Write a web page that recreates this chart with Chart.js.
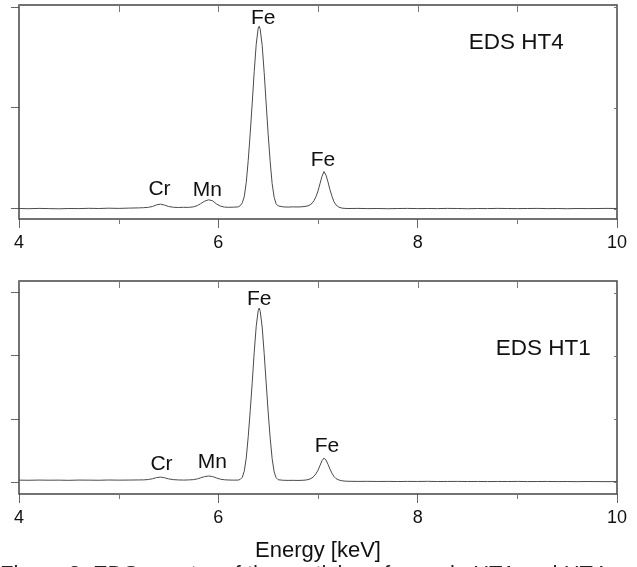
<!DOCTYPE html>
<html>
<head>
<meta charset="utf-8">
<script src="https://cdn.jsdelivr.net/npm/chart.js@4.4.1/dist/chart.umd.min.js"></script>
<style>
  html, body { margin: 0; padding: 0; background: #fff; width: 637px; height: 567px; overflow: hidden; position: relative; }
  canvas { position: absolute; left: 0; }
  #caption { position: absolute; left: 0; top: 564px; font: 22px "Liberation Sans", Arial, sans-serif; color: #222; white-space: nowrap; line-height: 20px; }
</style>
</head>
<body>
<canvas id="ht4Chart" width="637" height="255" style="top:0"></canvas>
<canvas id="ht1Chart" width="637" height="305" style="top:262px"></canvas>
<div id="caption">Figure 3: EDS spectra of the particles of sample HT1 and HT4</div>
<script>
// energy grid (keV), finer around the peaks
const energy = [
  4.0, 4.1, 4.2, 4.3, 4.4, 4.5, 4.6, 4.7, 4.8, 4.9, 5.0, 5.1, 5.2,
  5.25, 5.30, 5.34, 5.38, 5.42, 5.46, 5.50, 5.55, 5.60, 5.65, 5.70, 5.75, 5.79, 5.82, 5.86, 5.90, 5.94, 5.98, 6.02, 6.06, 6.10, 6.15, 6.20,
  6.22, 6.24, 6.26, 6.28, 6.30, 6.32, 6.34, 6.36, 6.38, 6.40, 6.41, 6.42, 6.44, 6.46, 6.48, 6.50, 6.52, 6.54, 6.56, 6.58, 6.60,
  6.65, 6.70, 6.75, 6.80, 6.85, 6.88,
  6.91, 6.94, 6.96, 6.98, 7.00, 7.02, 7.04, 7.06, 7.08, 7.10, 7.12, 7.14, 7.16, 7.18, 7.21, 7.24, 7.27,
  7.3, 7.4, 7.5, 7.6, 7.7, 7.8, 7.9, 8.0, 8.1, 8.2, 8.3, 8.4, 8.5, 8.6, 8.7, 8.8, 8.9, 9.0, 9.1, 9.2, 9.3, 9.4, 9.5, 9.6, 9.7, 9.8, 9.9, 10.0
];

// counts, in units of one y tick
const countsHT4 = [
  0.004, 0.002, 0.005, 0.003, 0.001, 0.004, 0.003, 0.006, 0.004, 0.007, 0.005, 0.008, 0.010,
  0.012, 0.016, 0.024, 0.040, 0.047, 0.038, 0.024, 0.016, 0.014, 0.016, 0.015, 0.020, 0.033, 0.050, 0.075, 0.090, 0.082, 0.050, 0.028, 0.018, 0.016, 0.017, 0.020,
  0.032, 0.060, 0.120, 0.260, 0.480, 0.750, 1.050, 1.360, 1.630, 1.790, 1.810, 1.780, 1.620, 1.350, 1.040, 0.740, 0.470, 0.250, 0.115, 0.050, 0.030,
  0.020, 0.018, 0.020, 0.019, 0.022, 0.026,
  0.034, 0.055, 0.082, 0.122, 0.178, 0.250, 0.322, 0.370, 0.335, 0.268, 0.190, 0.125, 0.072, 0.040, 0.017, 0.008, 0.005,
  0.004, 0.005, 0.003, 0.004, 0.002, 0.004, 0.005, 0.003, 0.004, 0.003, 0.005, 0.004, 0.002, 0.004, 0.003, 0.005, 0.004, 0.003, 0.004, 0.005, 0.003, 0.004, 0.002, 0.004, 0.003, 0.004, 0.005, 0.004
];

const countsHT1 = [
  0.030, 0.028, 0.031, 0.029, 0.030, 0.027, 0.031, 0.030, 0.028, 0.032, 0.030, 0.031, 0.033,
  0.034, 0.040, 0.052, 0.070, 0.078, 0.068, 0.050, 0.038, 0.033, 0.031, 0.033, 0.038, 0.050, 0.065, 0.085, 0.095, 0.088, 0.065, 0.045, 0.036, 0.032, 0.030, 0.031,
  0.042, 0.075, 0.170, 0.380, 0.720, 1.130, 1.580, 2.060, 2.470, 2.720, 2.760, 2.710, 2.460, 2.040, 1.570, 1.110, 0.700, 0.370, 0.160, 0.068, 0.036,
  0.028, 0.026, 0.027, 0.025, 0.028, 0.032,
  0.042, 0.065, 0.092, 0.132, 0.188, 0.262, 0.338, 0.380, 0.350, 0.282, 0.205, 0.140, 0.088, 0.055, 0.032, 0.020, 0.015,
  0.012, 0.010, 0.011, 0.009, 0.010, 0.008, 0.010, 0.009, 0.011, 0.008, 0.009, 0.010, 0.008, 0.009, 0.007, 0.009, 0.008, 0.010, 0.007, 0.008, 0.009, 0.007, 0.008, 0.006, 0.008, 0.007, 0.006, 0.007
];

const xTickLabels = [4, 6, 8, 10];
const peakNames = ['Cr', 'Mn', 'Fe', 'Fe'];

const FONT = '"Liberation Sans", Arial, sans-serif';

// axis frame, inner ticks and text labels
const framePlugin = {
  id: 'frame',
  afterDatasetsDraw(chart, args, opts) {
    const { ctx, chartArea: a, scales: { x, y } } = chart;
    ctx.save();
    ctx.strokeStyle = '#444';
    ctx.lineWidth = 1.5;
    ctx.strokeRect(a.left, a.top, a.right - a.left, a.bottom - a.top);

    ctx.lineWidth = 1;
    ctx.strokeStyle = '#777';
    ctx.beginPath();
    x.ticks.forEach(t => {
      const px = Math.round(x.getPixelForValue(t.value)) + 0.5;
      ctx.moveTo(px, a.top);
      ctx.lineTo(px, a.top + 7);
      if (t.value % 2 !== 0) {
        ctx.moveTo(px, a.bottom);
        ctx.lineTo(px, a.bottom + 5);
      }
    });
    y.ticks.forEach(t => {
      const py = Math.round(y.getPixelForValue(t.value)) + 0.5;
      ctx.moveTo(a.right - 3, py);
      ctx.lineTo(a.right, py);
    });
    ctx.stroke();

    ctx.fillStyle = '#111';
    ctx.textAlign = 'center';
    ctx.textBaseline = 'middle';
    opts.labels.forEach(l => {
      ctx.font = l.size + 'px ' + FONT;
      ctx.fillText(l.text, x.getPixelForValue(l.x), y.getPixelForValue(l.y));
    });
    ctx.restore();
  }
};

function drawPanel(canvasId, counts, yMin, yMax, padTop, xHeight, labels, showTitle) {
  const ctx = document.getElementById(canvasId).getContext('2d');
  return new Chart(ctx, {
    type: 'line',
    data: {
      datasets: [{
        data: energy.map((e, i) => ({ x: e, y: counts[i] })),
        borderColor: '#4a4a4a',
        borderWidth: 1,
        pointRadius: 0,
        fill: false,
        tension: 0
      }]
    },
    options: {
      responsive: false,
      animation: false,
      layout: { padding: { top: padTop, left: 10, right: 20, bottom: 0 } },
      plugins: {
        legend: { display: false },
        tooltip: { enabled: false },
        frame: { labels: labels }
      },
      scales: {
        x: {
          type: 'linear',
          min: 4,
          max: 10,
          border: { display: false },
          grid: {
            drawOnChartArea: false,
            tickLength: 9,
            tickColor: c => (c.tick && c.tick.value % 2 === 0) ? '#666' : 'rgba(0,0,0,0)'
          },
          ticks: {
            stepSize: 1,
            autoSkip: false,
            maxRotation: 0,
            padding: 4,
            color: '#111',
            font: { family: FONT, size: 18 },
            callback: v => xTickLabels.includes(v) ? String(v) : ''
          },
          title: {
            display: showTitle,
            text: 'Energy [keV]',
            color: '#111',
            font: { family: FONT, size: 22 },
            padding: { top: 0, bottom: 3 }
          },
          afterFit: s => { s.height = xHeight; }
        },
        y: {
          min: yMin,
          max: yMax,
          border: { display: false },
          grid: { drawOnChartArea: false, tickLength: 8, tickColor: '#666' },
          ticks: { display: false, stepSize: 1, includeBounds: false },
          afterFit: s => { s.width = 9; }
        }
      }
    },
    plugins: [framePlugin]
  });
}

drawPanel('ht4Chart', countsHT4, -0.1, 2.02, 5, 36, [
  { text: peakNames[0], x: 5.41, y: 0.20, size: 21 },
  { text: peakNames[1], x: 5.89, y: 0.19, size: 21 },
  { text: peakNames[2], x: 6.45, y: 1.89, size: 21 },
  { text: peakNames[3], x: 7.05, y: 0.485, size: 21 },
  { text: 'EDS HT4', x: 8.99, y: 1.65, size: 22.5 }
], false);

drawPanel('ht1Chart', countsHT1, -0.19, 3.19, 19, 73, [
  { text: peakNames[0], x: 5.43, y: 0.286, size: 21 },
  { text: peakNames[1], x: 5.94, y: 0.317, size: 21 },
  { text: peakNames[2], x: 6.41, y: 2.905, size: 21 },
  { text: peakNames[3], x: 7.09, y: 0.571, size: 21 },
  { text: 'EDS HT1', x: 9.26, y: 2.11, size: 22.5 }
], true);
</script>
</body>
</html>
